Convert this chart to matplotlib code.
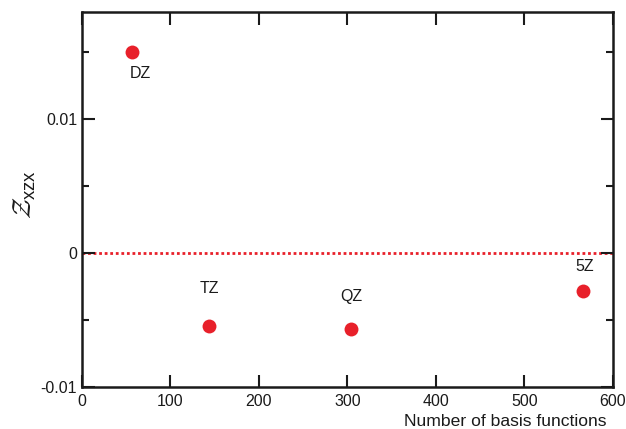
import matplotlib
matplotlib.use("Agg")
import matplotlib.pyplot as plt
from matplotlib.ticker import MultipleLocator

plt.rcParams['font.family'] = ['Liberation Sans', 'DejaVu Sans']
plt.rcParams['mathtext.fontset'] = 'custom'
plt.rcParams['mathtext.sf'] = 'Liberation Sans'
plt.rcParams['mathtext.cal'] = 'cmsy10'

labels = ['DZ', 'TZ', 'QZ', '5Z']
n_basis = [56, 144, 304, 566]
z_xzx = [0.0150, -0.00542, -0.00566, -0.00287]
label_offsets = [(6, -15), (0, 26.5), (0, 23), (1.5, 18)]

fig = plt.figure(figsize=(6.26, 4.29), dpi=100)
ax = fig.add_axes([0.131, 0.098, 0.848, 0.874])

ax.plot([0, 600], [0, 0], color='#e8202a', linestyle=(0, (1, 1)), linewidth=2.0, zorder=1)
ax.plot(n_basis, z_xzx, 'o', color='#e8202a', markersize=10, markeredgewidth=0, zorder=3)
for lab, x, y, off in zip(labels, n_basis, z_xzx, label_offsets):
    ax.annotate(lab, (x, y), xytext=off, textcoords='offset points',
                ha='center', va='center', fontsize=11.5, color='#1a1a1a')

ax.set_xlim(0, 600)
ax.set_ylim(-0.01, 0.018)
ax.set_xticks([0, 100, 200, 300, 400, 500, 600])
ax.set_yticks([-0.01, 0, 0.01])
ax.set_yticklabels(['-0.01', '0', '0.01'])
ax.yaxis.set_minor_locator(MultipleLocator(0.005))
ax.tick_params(which='both', direction='in', top=True, right=True, labelsize=11.5, width=1.5, colors='#1a1a1a')
ax.tick_params(which='major', length=9)
ax.tick_params(which='minor', length=5)
ax.tick_params(axis='x', pad=5)
for sp in ax.spines.values():
    sp.set_linewidth(1.8)
    sp.set_color('#1a1a1a')

fig.text(607 / 626, 1 - 426 / 429, 'Number of basis functions', fontsize=12.6,
         color='#1a1a1a', ha='right', va='baseline')
ax.set_ylabel(r'$\mathcal{Z}_{\mathsf{xzx}}$', fontsize=19, color='#1a1a1a')
ax.yaxis.set_label_coords(-0.083, 0.512)

fig.savefig('out.png', dpi=100)
